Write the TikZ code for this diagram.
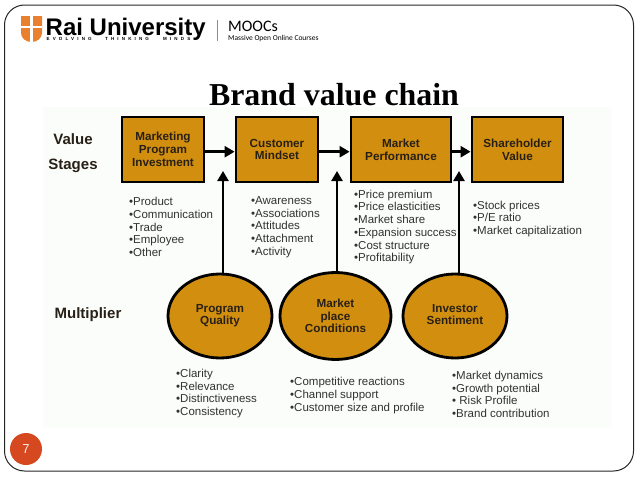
\documentclass[tikz,border=0pt]{standalone}
\usepackage{fontspec}
\setmainfont{Liberation Sans}
\newfontfamily\titlefont{Liberation Serif}
\newfontfamily\mooc{Carlito}
\newfontfamily\motto[LetterSpace=70]{Liberation Sans}
\usetikzlibrary{arrows.meta, shapes.geometric}
\definecolor{chainfill}{RGB}{210, 143, 15}
\definecolor{inkdark}{RGB}{40, 32, 22}
\definecolor{inklist}{RGB}{50, 50, 50}
\definecolor{panel}{RGB}{251, 253, 251}
\definecolor{shield}{RGB}{232, 128, 48}
\definecolor{pagedot}{RGB}{214, 72, 31}
\tikzset{
  stagebox/.style={rectangle, draw=black, line width=2.8pt, fill=chainfill, inner sep=0pt, text=inkdark, align=center, font=\fontsize{11.7}{12.7}\selectfont\bfseries},
  multcircle/.style={ellipse, draw=black, line width=2.8pt, fill=chainfill, inner sep=0pt, text=inkdark, align=center, font=\fontsize{11.7}{12.7}\selectfont\bfseries},
  itemlist/.style={anchor=west, inner sep=0pt, align=left, text=inklist, font=\fontsize{11.5}{12.7}\selectfont},
  rowlabel/.style={inner sep=0pt, text=inkdark, font=\fontsize{15}{17}\selectfont\bfseries},
  mottoword/.style={inner sep=0pt, anchor=base west, font=\motto\fontsize{4.5}{5}\selectfont\bfseries},
  flow/.style={draw=black, line width=2.6pt, -{Triangle[length=10pt, width=11pt]}}
}
\begin{document}
\begin{tikzpicture}[x=1pt, y=-1pt]
\useasboundingbox (0, 0) rectangle (638, 479);

% slide
\draw[line width=1pt, rounded corners=20pt, black!85] (4.5, 5) rectangle (633.5, 471);

% logo
\fill[shield] (21, 16) -- (42, 16) -- (42, 33) to[out=-90, in=0] (31.5, 42) to[out=180, in=-90] (21, 33) -- cycle;
\fill[white] (30.3, 16) rectangle (32.7, 41.5);
\fill[white] (21, 26) rectangle (42, 28.2);
\node[inner sep=0pt, anchor=base west] (rai) at (45.5, 35) {\fontsize{24}{24}\selectfont\bfseries Rai University};
\node[mottoword] (evolving) at (46.5, 40.5) {EVOLVING};
\node[mottoword] (thinking) at (105, 40.5) {THINKING};
\node[mottoword] (minds) at (163, 40.5) {MINDS};
\draw[black!45, line width=0.6pt] (217, 20) -- (217, 41);
\node[inner sep=0pt, anchor=west] (moocs) at (228, 26) {\mooc\fontsize{16}{18}\selectfont MOOCs};
\node[inner sep=0pt, anchor=west] (massive) at (228, 38.5) {\mooc\fontsize{7.5}{8}\selectfont Massive Open Online Courses};

% panel
\fill[panel] (43, 107) rectangle (612, 428);

% title
\node[inner sep=0pt] (title) at (334, 95) {\titlefont\fontsize{31.9}{33}\selectfont\bfseries Brand value chain};

% labels
\node[rowlabel] (value) at (73, 139) {Value};
\node[rowlabel] (stages) at (73, 165.5) {Stages};
\node[rowlabel] (multiplier) at (88, 315) {Multiplier};

% stages
\node[stagebox, minimum width=82pt, minimum height=65pt] (mpi) at (163, 149.5) {Marketing\\Program\\Investment};
\node[stagebox, minimum width=82pt, minimum height=65pt] (mindset) at (277, 149.5) {Customer\\Mindset};
\node[stagebox, minimum width=100pt, minimum height=65pt] (perf) at (401, 149.5) {Market\\Performance};
\node[stagebox, minimum width=91pt, minimum height=65pt] (holder) at (517.5, 149.5) {Shareholder\\Value};

% multipliers
\node[multcircle, minimum width=104pt, minimum height=84pt] (quality) at (220, 316) {\raisebox{-1.5pt}{\begin{tabular}{@{}c@{}}Program\\Quality\end{tabular}}};
\node[multcircle, minimum width=111pt, minimum height=87pt] (place) at (335.5, 316) {Market\\place\\Conditions};
\node[multcircle, minimum width=104pt, minimum height=84pt] (sentiment) at (455, 316) {\raisebox{-1.5pt}{\begin{tabular}{@{}c@{}}Investor\\Sentiment\end{tabular}}};

% arrow ends
\coordinate (qtip) at (223, 171);
\coordinate (ptip) at (337, 171);
\coordinate (stip) at (459, 171);

% arrows
\draw[flow] ([yshift=-2.2pt]mpi.east) -- ([yshift=-2.2pt]mindset.west);
\draw[flow] ([yshift=-2.2pt]mindset.east) -- ([yshift=-2.2pt]perf.west);
\draw[flow] ([yshift=-2.2pt]perf.east) -- ([yshift=-2.2pt]holder.west);
\draw[flow] (quality.north -| qtip) -- (qtip);
\draw[flow] (place.north -| ptip) -- (ptip);
\draw[flow] (sentiment.north -| stip) -- (stip);

% lists
\node[itemlist] (mpilist) at (129, 227) {•Product\\•Communication\\•Trade\\•Employee\\•Other};
\node[itemlist] (mindsetlist) at (251, 227) {•Awareness\\•Associations\\•Attitudes\\•Attachment\\•Activity};
\node[itemlist] (perflist) at (354, 227) {•Price premium\\•Price elasticities\\•Market share\\•Expansion success\\•Cost structure\\•Profitability};
\node[itemlist] (holderlist) at (473, 219) {•Stock prices\\•P/E ratio\\•Market capitalization};
\node[itemlist] (qualitylist) at (176, 393.5) {•Clarity\\•Relevance\\•Distinctiveness\\•Consistency};
\node[itemlist] (placelist) at (290, 395.5) {•Competitive reactions\\•Channel support\\•Customer size and profile};
\node[itemlist] (sentimentlist) at (452, 394.5) {•Market dynamics\\•Growth potential\\• Risk Profile\\•Brand contribution};

% page number
\node[circle, fill=pagedot, minimum width=32pt, inner sep=0pt, text=white!90!pagedot, font=\fontsize{13}{14}\selectfont] (page) at (26, 449) {7};
\end{tikzpicture}
\end{document}
